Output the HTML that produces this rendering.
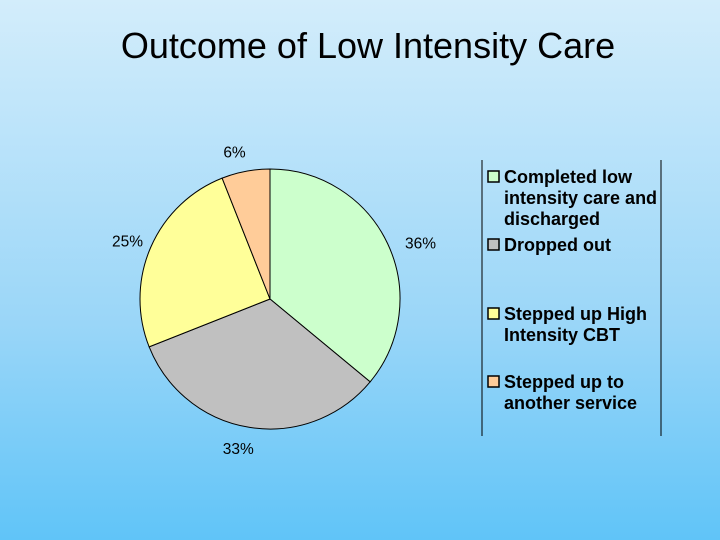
<!DOCTYPE html>
<html><head><meta charset="utf-8"><style>
body{margin:0;width:720px;height:540px;overflow:hidden;background:linear-gradient(#d3edfb,#9ad6f8 60%,#60c4f8);font-family:"Liberation Sans",sans-serif;}
svg{position:absolute;left:0;top:0}
</style></head><body>
<svg width="720" height="540">
<text x="368" y="58" text-anchor="middle" font-size="36" fill="#000">Outcome of Low Intensity Care</text>
<g id="pie"></g>
<line x1="482" y1="160" x2="482" y2="436" stroke="#000"/>
<line x1="661" y1="160" x2="661" y2="436" stroke="#000"/>
<g id="legend" font-size="18" font-weight="bold"></g>
</svg>
<script>
const categories=["Completed low|intensity care and|discharged","Dropped out","Stepped up High|Intensity CBT","Stepped up to|another service"];
const values=[36,33,25,6];
const labels=["36%","33%","25%","6%"];
const colors=["#ccffcc","#c0c0c0","#ffff99","#ffcc99"];
const NS="http://www.w3.org/2000/svg";
const cx=270,cy=299,r=130;
const total=values.reduce((a,b)=>a+b,0);
const pie=document.getElementById('pie');
// small layout nudges for label placement
const nudge=[[13,9],[-8,0],[-3,3],[-7,3]];
let a0=0;
values.forEach((v,i)=>{
  const a1=a0+v/total*2*Math.PI;
  const x0=cx+r*Math.sin(a0),y0=cy-r*Math.cos(a0),x1=cx+r*Math.sin(a1),y1=cy-r*Math.cos(a1);
  const p=document.createElementNS(NS,'path');
  p.setAttribute('d',`M${cx},${cy}L${x0},${y0}A${r},${r} 0 ${a1-a0>Math.PI?1:0} 1 ${x1},${y1}Z`);
  p.setAttribute('fill',colors[i]);p.setAttribute('stroke','#000');p.setAttribute('stroke-width','1');
  
  
  pie.appendChild(p);
  const am=(a0+a1)/2;
  const t=document.createElementNS(NS,'text');
  const lx=cx+(r+22)*Math.sin(am),ly=cy-(r+22)*Math.cos(am);
  t.setAttribute('x',lx+nudge[i][0]);t.setAttribute('y',ly+5+nudge[i][1]);
  t.setAttribute('text-anchor','middle');t.setAttribute('font-size','15.5');
  t.textContent=labels[i];
  
  
  pie.appendChild(t);
  a0=a1;
});
const lg=document.getElementById('legend');
const ys=[183,251,320,388];
categories.forEach((c,i)=>{
  const g=document.createElementNS(NS,'g');
  
  
  const s=document.createElementNS(NS,'rect');
  s.setAttribute('x',488);s.setAttribute('y',ys[i]-12);s.setAttribute('width',11);s.setAttribute('height',11);
  s.setAttribute('fill',colors[i]);s.setAttribute('stroke','#000');s.setAttribute('stroke-width','1.5');
  g.appendChild(s);
  c.split('|').forEach((line,j)=>{
    const t=document.createElementNS(NS,'text');
    t.setAttribute('x',504);t.setAttribute('y',ys[i]+j*21);t.textContent=line;
    g.appendChild(t);
  });
  lg.appendChild(g);
});
</script>
</body></html>
